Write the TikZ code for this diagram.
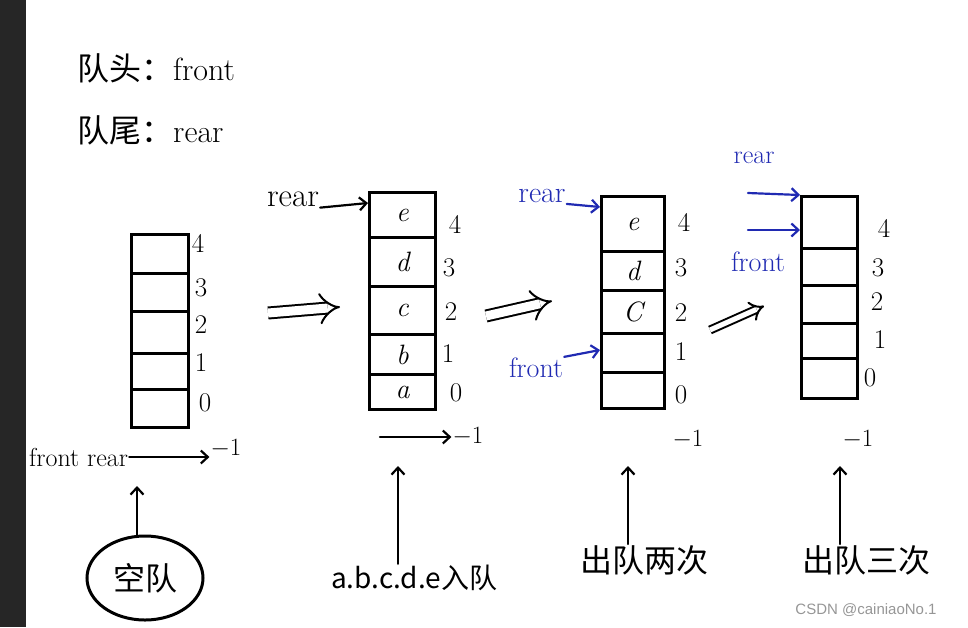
\documentclass[tikz,border=0pt]{standalone}
\usepackage{fontspec}
\newfontfamily\cjk{Noto Sans CJK SC}
\newfontfamily\wm{Liberation Sans}
\usetikzlibrary{arrows.meta,shapes.geometric}
\definecolor{handblue}{RGB}{32,42,178}
\definecolor{stripgray}{RGB}{38,38,38}
\definecolor{wmgray}{RGB}{150,150,150}
\tikzset{
  cell/.style={draw, line width=3pt, inner sep=0pt, anchor=north west,
    font=\fontsize{28}{28}\selectfont\itshape},
  idx/.style={font=\fontsize{27}{27}\selectfont, inner sep=1pt},
  ink/.style={line width=2.2pt, line cap=round},
  arr/.style={ink, -{Straight Barb[length=7pt,width=13pt]}},
  barr/.style={arr, draw=handblue},
  lbl/.style={font=\fontsize{33}{33}\selectfont, inner sep=1pt},
  blbl/.style={lbl, text=handblue},
  cnlbl/.style={font=\cjk\fontsize{32}{32}\selectfont, inner sep=1pt},
  dbl/.style={double, double distance=9pt, line width=2pt, -{Implies}},
}
\begin{document}
\begin{tikzpicture}[x=1pt,y=-1pt]
\useasboundingbox (0,0) rectangle (968,627);
\fill[stripgray] (0,0) rectangle (26,627);

% header
\node[cnlbl, anchor=west] (hfront) at (76,68) {队头：\normalfont\fontsize{32}{32}\selectfont front};
\node[cnlbl, anchor=west] (hrear) at (76,130) {队尾：\normalfont\fontsize{32}{32}\selectfont rear};

% ---------- queue 1 (empty) ----------
\node[cell, minimum width=57pt, minimum height=39pt] (q1c4) at (130,233) {};
\node[cell, minimum width=57pt, minimum height=38pt] (q1c3) at (130,272) {};
\node[cell, minimum width=57pt, minimum height=42pt] (q1c2) at (130,310) {};
\node[cell, minimum width=57pt, minimum height=36pt] (q1c1) at (130,352) {};
\node[cell, minimum width=57pt, minimum height=38pt] (q1c0) at (130,388) {};
\node[idx] (q1i4) at (198,243) {4};
\node[idx] (q1i3) at (201,288) {3};
\node[idx] (q1i2) at (201,325) {2};
\node[idx] (q1i1) at (201,363) {1};
\node[idx] (q1i0) at (205,403) {0};
\node[lbl, font=\fontsize{26}{26}\selectfont, anchor=west] (q1fr) at (28,457) {front rear};
\node[idx] (q1m1) at (226,449) {$-1$};
\draw[arr] (q1fr.east) -- (q1m1.west |- q1fr.east);
\node[ellipse, draw, line width=3pt, minimum width=116pt, minimum height=84pt,
      cnlbl] (kong) at (145,578) {空队};
\coordinate (q1up) at (137,486);
\draw[arr] (kong.north -| q1up) -- (q1up);

% transition 1
\coordinate (t1a) at (268,313);
\coordinate (t1b) at (340,307);
\draw[dbl] (t1a) -- (t1b);

% ---------- queue 2 ----------
\node[cell, minimum width=66pt, minimum height=45pt] (q2c4) at (368,191) {e};
\node[cell, minimum width=66pt, minimum height=49pt] (q2c3) at (368,236) {d};
\node[cell, minimum width=66pt, minimum height=48pt] (q2c2) at (368,285) {c};
\node[cell, minimum width=66pt, minimum height=40pt] (q2c1) at (368,333) {b};
\node[cell, minimum width=66pt, minimum height=35pt] (q2c0) at (368,373) {a};
\node[idx] (q2i4) at (455,224) {4};
\node[idx] (q2i3) at (449,268) {3};
\node[idx] (q2i2) at (451,312) {2};
\node[idx] (q2i1) at (448,354) {1};
\node[idx] (q2i0) at (456,393) {0};
\node[lbl] (q2rear) at (293,199) {rear};
\draw[arr] (q2rear.south east) -- (q2c4.west |- 0,203);
\coordinate (q2ra) at (380,437);
\node[idx] (q2m1) at (468,437) {$-1$};
\draw[arr] (q2ra) -- (q2m1.west);
\node[cnlbl, font=\cjk\fontsize{28}{28}\selectfont] (q2txt) at (414,578) {a.b.c.d.e入队};
\coordinate (q2up) at (398,466);
\draw[arr] (q2txt.north -| q2up) -- (q2up);

% transition 2
\coordinate (t2a) at (486,316);
\coordinate (t2b) at (552,301);
\draw[dbl] (t2a) -- (t2b);

% ---------- queue 3 ----------
\node[cell, minimum width=63pt, minimum height=55pt] (q3c4) at (600,195) {e};
\node[cell, minimum width=63pt, minimum height=39pt] (q3c3) at (600,250) {d};
\node[cell, minimum width=63pt, minimum height=43pt] (q3c2) at (600,289) {C};
\node[cell, minimum width=63pt, minimum height=39pt] (q3c1) at (600,332) {};
\node[cell, minimum width=63pt, minimum height=36pt] (q3c0) at (600,371) {};
\node[idx] (q3i4) at (684,222) {4};
\node[idx] (q3i3) at (681,268) {3};
\node[idx] (q3i2) at (681,313) {2};
\node[idx] (q3i1) at (681,352) {1};
\node[idx] (q3i0) at (681,395) {0};
\node[idx] (q3m1) at (688,440) {$-1$};
\node[blbl, font=\fontsize{30}{30}\selectfont] (q3rear) at (542,196) {rear};
\draw[barr] (q3rear.south east) -- (q3c4.west |- 0,207);
\node[blbl, font=\fontsize{28}{28}\selectfont] (q3front) at (536,368) {front};
\draw[barr] (q3front.north east) -- (q3c1.west |- 0,350);
\node[cnlbl] (q3txt) at (644,560) {出队两次};
\coordinate (q3up) at (628,466);
\draw[arr] (q3txt.north -| q3up) -- (q3up);

% transition 3
\coordinate (t3a) at (710,330);
\coordinate (t3b) at (764,306);
\draw[dbl, double distance=5pt] (t3a) -- (t3b);

% ---------- queue 4 ----------
\node[cell, minimum width=56pt, minimum height=52pt] (q4c4) at (800,195) {};
\node[cell, minimum width=56pt, minimum height=37pt] (q4c3) at (800,247) {};
\node[cell, minimum width=56pt, minimum height=38pt] (q4c2) at (800,284) {};
\node[cell, minimum width=56pt, minimum height=35pt] (q4c1) at (800,322) {};
\node[cell, minimum width=56pt, minimum height=40pt] (q4c0) at (800,357) {};
\node[idx] (q4i4) at (884,228) {4};
\node[idx] (q4i3) at (878,268) {3};
\node[idx] (q4i2) at (877,302) {2};
\node[idx] (q4i1) at (880,340) {1};
\node[idx] (q4i0) at (870,378) {0};
\node[idx] (q4m1) at (858,440) {$-1$};
\node[blbl, font=\fontsize{26}{26}\selectfont] (q4rear) at (754,158) {rear};
\coordinate (q4ra) at (748,193);
\draw[barr] (q4ra) -- (q4c4.north west);
\coordinate (q4fa) at (748,230);
\draw[barr] (q4fa) -- (q4c4.west |- q4fa);
\node[blbl, font=\fontsize{28}{28}\selectfont] (q4front) at (758,262) {front};
\node[cnlbl] (q4txt) at (866,560) {出队三次};
\coordinate (q4up) at (840,466);
\draw[arr] (q4txt.north -| q4up) -- (q4up);

% watermark
\node[text=wmgray, font=\wm\fontsize{15}{15}\selectfont] (wmk) at (866,610) {CSDN @cainiaoNo.1};
\end{tikzpicture}
\end{document}
